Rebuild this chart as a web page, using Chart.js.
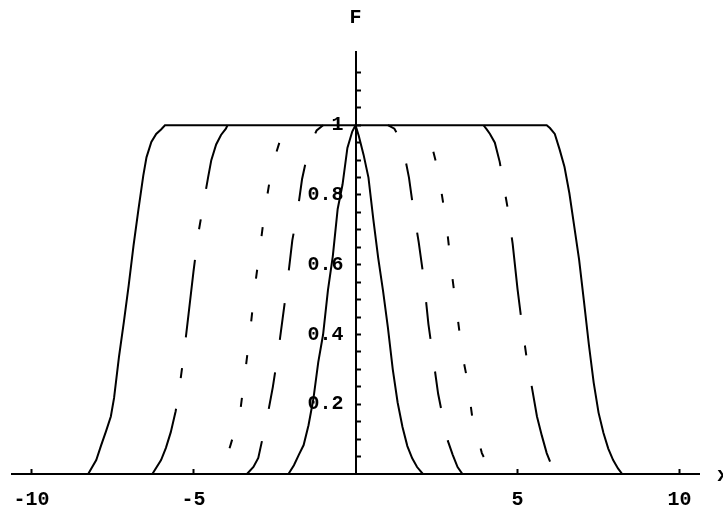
<!DOCTYPE html>
<html>
<head>
<meta charset="utf-8">
<script src="https://cdn.jsdelivr.net/npm/chart.js@4"></script>
<style>
  html, body { margin: 0; padding: 0; background: #fff; }
  #wrap { width: 723px; height: 515px; }
</style>
</head>
<body>
<div id="wrap"><canvas id="c" width="723" height="515"></canvas></div>
<script>
// ---- data (left branch: foot -> top, right branch: top -> foot) ----
const curve0LeftX  = [-2.07, -1.9, -1.75, -1.6, -1.45, -1.3, -1.15, -1.0, -0.85, -0.7, -0.55, -0.4, -0.25, -0.1, 0];
const curve0LeftY  = [0, 0.025, 0.055, 0.083, 0.14, 0.215, 0.32, 0.4, 0.527, 0.625, 0.76, 0.83, 0.935, 0.982, 1];
const curve0RightX = [0.1, 0.25, 0.4, 0.55, 0.7, 0.85, 1.0, 1.15, 1.3, 1.45, 1.6, 1.75, 1.9, 2.08];
const curve0RightY = [0.97, 0.915, 0.85, 0.73, 0.62, 0.525, 0.42, 0.3, 0.205, 0.135, 0.08, 0.045, 0.02, 0];

const curve1LeftX  = [-3.35, -3.15, -3.0, -2.85, -2.7, -2.55, -2.4, -2.25, -2.1, -1.95, -1.8, -1.65, -1.5, -1.35, -1.2, -1.0];
const curve1LeftY  = [0, 0.02, 0.046, 0.11, 0.175, 0.25, 0.34, 0.445, 0.55, 0.67, 0.745, 0.845, 0.91, 0.955, 0.985, 1];
const curve1RightX = [1.0, 1.2, 1.35, 1.5, 1.65, 1.8, 1.95, 2.1, 2.25, 2.4, 2.55, 2.7, 2.85, 3.0, 3.15, 3.3];
const curve1RightY = [1, 0.99, 0.965, 0.92, 0.85, 0.75, 0.665, 0.565, 0.43, 0.33, 0.23, 0.16, 0.095, 0.055, 0.02, 0];

const curve2LeftX  = [-4.25, -4.0, -3.85, -3.7, -3.55, -3.4, -3.25, -3.1, -2.95, -2.8, -2.65, -2.5, -2.35, -2.2, -2.05, -1.97];
const curve2LeftY  = [0, 0.04, 0.085, 0.133, 0.185, 0.295, 0.41, 0.54, 0.645, 0.755, 0.84, 0.905, 0.95, 0.98, 0.995, 1];
const curve2RightX = [1.97, 2.1, 2.25, 2.4, 2.55, 2.7, 2.85, 3.0, 3.15, 3.3, 3.45, 3.6, 3.75, 3.9, 4.05, 4.25];
const curve2RightY = [1, 0.99, 0.97, 0.925, 0.87, 0.78, 0.68, 0.555, 0.45, 0.34, 0.27, 0.165, 0.11, 0.06, 0.03, 0];

const curve4LeftX  = [-6.27, -6.0, -5.85, -5.7, -5.55, -5.45, -5.3, -5.15, -5.0, -4.85, -4.7, -4.55, -4.45, -4.3, -4.15, -4.0, -3.95];
const curve4LeftY  = [0, 0.04, 0.075, 0.12, 0.18, 0.235, 0.34, 0.46, 0.58, 0.69, 0.77, 0.85, 0.9, 0.945, 0.972, 0.99, 1];
const curve4RightX = [3.95, 4.05, 4.15, 4.3, 4.45, 4.55, 4.7, 4.85, 5.0, 5.15, 5.3, 5.45, 5.6, 5.75, 5.9, 6.05, 6.2];
const curve4RightY = [1, 0.988, 0.975, 0.95, 0.895, 0.84, 0.76, 0.66, 0.53, 0.42, 0.32, 0.245, 0.165, 0.11, 0.06, 0.025, 0];

const curve6LeftX  = [-8.25, -8.0, -7.85, -7.7, -7.55, -7.45, -7.3, -7.15, -7.0, -6.85, -6.7, -6.55, -6.45, -6.3, -6.15, -6.0, -5.88];
const curve6LeftY  = [0, 0.04, 0.082, 0.122, 0.165, 0.218, 0.335, 0.435, 0.54, 0.655, 0.757, 0.855, 0.908, 0.952, 0.975, 0.988, 1];
const curve6RightX = [5.9, 6.0, 6.15, 6.3, 6.45, 6.6, 6.75, 6.9, 7.05, 7.2, 7.35, 7.5, 7.65, 7.8, 7.95, 8.1, 8.23];
const curve6RightY = [1, 0.992, 0.975, 0.93, 0.88, 0.805, 0.71, 0.615, 0.495, 0.372, 0.262, 0.176, 0.118, 0.073, 0.04, 0.016, 0];

const xTickValues = [-10, -5, 5, 10];
const yTickValues = [0.05, 0.1, 0.15, 0.2, 0.25, 0.3, 0.35, 0.4, 0.45, 0.5, 0.55, 0.6, 0.65, 0.7, 0.75, 0.8, 0.85, 0.9, 0.95, 1, 1.05, 1.1, 1.15];
const yLabelledValues = [0.2, 0.4, 0.6, 0.8, 1];
const xAxisTitle = 'x';
const yAxisTitle = 'F';

// ---- styling ----
const FONT = { family: '"Liberation Mono", "DejaVu Sans Mono", monospace', size: 20, weight: 'bold' };
const toPoints = (xs, ys) => xs.map((x, i) => ({ x: x, y: ys[i] }));
// right branches are drawn starting from their foot so the dash phase begins at the axis
const fromFoot = (xs, ys) => toPoints(xs, ys).reverse();
const lineDs = (points, dash, offset) => ({
  data: points,
  borderColor: '#000', borderWidth: 2, pointRadius: 0, tension: 0,
  fill: false, borderDash: dash, borderDashOffset: offset
});

const DASH1 = [37, 33];
const DASH2 = [9, 34];
const DASH4 = [78, 31, 10, 31];

const axisTitles = {
  id: 'axisTitles',
  afterDraw(chart) {
    const { ctx, scales: { x, y } } = chart;
    ctx.save();
    ctx.fillStyle = '#000';
    ctx.font = 'bold 20px "Liberation Mono", monospace';
    ctx.textAlign = 'center';
    ctx.textBaseline = 'middle';
    ctx.fillText(yAxisTitle, x.getPixelForValue(0), y.top - 34);
    ctx.textAlign = 'left';
    ctx.textBaseline = 'alphabetic';
    ctx.fillText(xAxisTitle, x.right + 18, y.getPixelForValue(0) + 7);
    ctx.restore();
  }
};

const noPad = (s) => { s.paddingLeft = 0; s.paddingRight = 0; s.paddingTop = 0; s.paddingBottom = 0; };
const axisCommon = {
  type: 'linear',
  afterFit: noPad,
  grid: { display: true, drawOnChartArea: false, drawTicks: true, tickLength: -6, tickWidth: 2, tickColor: '#000' },
  border: { display: true, color: '#000', width: 2 }
};

new Chart(document.getElementById('c'), {
  type: 'line',
  data: {
    datasets: [
      lineDs(toPoints(curve6LeftX.concat(curve6RightX), curve6LeftY.concat(curve6RightY)), [], 0),
      lineDs(toPoints(curve4LeftX, curve4LeftY), DASH4, 8),
      lineDs(fromFoot(curve4RightX, curve4RightY), DASH4, 136),
      lineDs(toPoints(curve2LeftX, curve2LeftY), DASH2, 14.5),
      lineDs(fromFoot(curve2RightX, curve2RightY), DASH2, 23.5),
      lineDs(toPoints(curve1LeftX, curve1LeftY), DASH1, 0),
      lineDs(fromFoot(curve1RightX, curve1RightY), DASH1, 0),
      lineDs(toPoints(curve0LeftX.concat(curve0RightX), curve0LeftY.concat(curve0RightY)), [], 0)
    ]
  },
  options: {
    responsive: false,
    animation: false,
    devicePixelRatio: 1,
    layout: { padding: { left: 12, right: 24, top: 52, bottom: 41 } },
    plugins: { legend: { display: false }, tooltip: { enabled: false } },
    scales: {
      x: Object.assign({}, axisCommon, {
        min: -10.6, max: 10.6,
        position: { y: 0 },
        afterBuildTicks: (s) => { s.ticks = xTickValues.map(v => ({ value: v })); },
        ticks: { autoSkip: false, maxRotation: 0, color: '#000', font: FONT, padding: 20,
                 callback: (v) => String(v) }
      }),
      y: Object.assign({}, axisCommon, {
        min: 0, max: 1.21,
        position: { x: 0 },
        afterBuildTicks: (s) => { s.ticks = yTickValues.map(v => ({ value: v })); },
        ticks: { autoSkip: false, color: '#000', font: FONT,
                 callback: (v) => yLabelledValues.includes(v) ? String(v) + ' ' : '' }
      })
    }
  },
  plugins: [axisTitles]
});
</script>
</body>
</html>
